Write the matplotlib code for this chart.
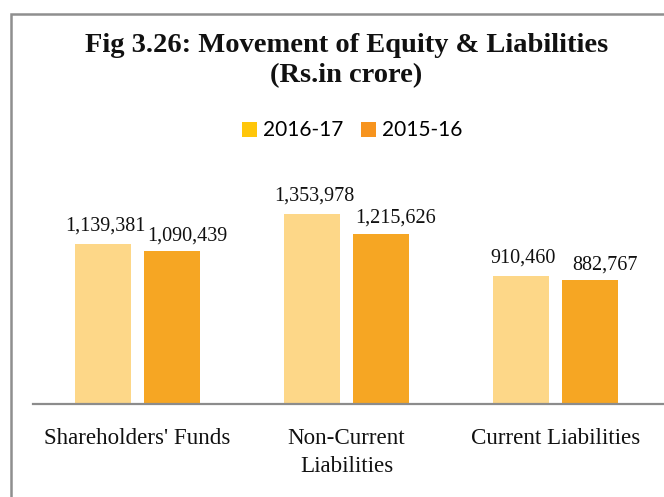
import matplotlib
matplotlib.use("Agg")
import matplotlib.pyplot as plt
import numpy as np
from matplotlib.patches import Patch, Rectangle

categories = ["Shareholders' Funds", "Non-Current\nLiabilities", "Current Liabilities"]
series_names = ["2016-17", "2015-16"]
values_1617 = [1139381, 1353978, 910460]
values_1516 = [1090439, 1215626, 882767]

BAR_COLORS = ["#FDD788", "#F6A623"]
LEGEND_COLORS = ["#FFC60A", "#F7941E"]
SERIF = "Liberation Serif"
INK = "#111111"

fig = plt.figure(figsize=(6.64, 4.97), dpi=100)
ax = fig.add_axes([33 / 664, 93.5 / 497, 631 / 664, 223.7 / 497])

x = np.arange(len(categories))
w = 0.268
off = 0.165
# label offsets (points): Excel nudged the second series' labels to the right
series = [(values_1617, -off, BAR_COLORS[0], (1.8, 10.0)),
          (values_1516, off, BAR_COLORS[1], (10.8, 7.9))]
for vals, dx, col, lab_off in series:
    bars = ax.bar(x + dx, vals, width=w, color=col, zorder=2)
    for b, v in zip(bars, vals):
        ax.annotate(f"{v:,}", (b.get_x() + b.get_width() / 2, v), xytext=lab_off,
                    textcoords="offset points", ha="center", va="baseline",
                    family=SERIF, fontsize=14.5, color=INK)

ax.set_xlim(-0.5, 2.519)
ax.set_ylim(0, 1600000)
ax.set_yticks([])
ax.set_xticks(x)
ax.set_xticklabels(categories, family=SERIF, fontsize=16.6, color=INK, linespacing=1.38)
ax.tick_params(axis="x", length=0, pad=18)
for s in ["top", "right", "left"]:
    ax.spines[s].set_visible(False)
ax.spines["bottom"].set_color("#8C8C8C")
ax.spines["bottom"].set_linewidth(1.6)

fig.text(346.5 / 664, 1 - 52 / 497, "Fig 3.26: Movement of Equity & Liabilities",
         ha="center", va="baseline", family=SERIF, fontweight="bold", fontsize=20.5, color=INK)
fig.text(346.5 / 664, 1 - 82 / 497, "(Rs.in crore)",
         ha="center", va="baseline", family=SERIF, fontweight="bold", fontsize=20.5, color=INK)

handles = [Patch(facecolor=c, edgecolor="none") for c in LEGEND_COLORS]
fig.legend(handles, series_names, loc="center", bbox_to_anchor=(352 / 664, 1 - 130.5 / 497),
           ncol=2, frameon=False, handlelength=0.72, handleheight=0.72,
           handletextpad=0.3, columnspacing=0.85, prop={"family": "Lato", "size": 15})

# outer chart-area border (runs off the right and bottom edges)
fig.add_artist(Rectangle((10.5 / 664, -0.1), 1.0, 1.1 - 13.5 / 497, transform=fig.transFigure,
                         fill=False, edgecolor="#8F8F8F", linewidth=1.8))

fig.savefig("out.png", dpi=100)
